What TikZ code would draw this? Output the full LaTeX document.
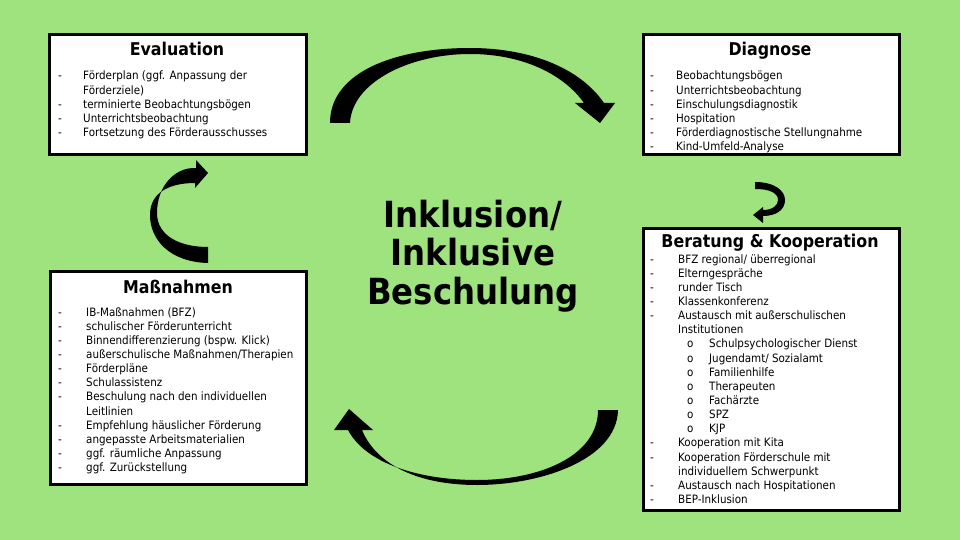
\documentclass[tikz,border=0pt]{standalone}
\usepackage{fontspec}
\setmainfont{DejaVu Sans Condensed}
\definecolor{bg}{HTML}{9EE37D}
\newcommand{\subit}[1]{\hspace*{9pt}\makebox[22pt][l]{o}#1}
\begin{document}
\begin{tikzpicture}[x=1pt,y=-1pt,
  box/.style={draw=black, line width=2.6pt, fill=white, anchor=north west, inner sep=0pt},
  title/.style={font=\fontsize{17.6}{19}\selectfont\bfseries, anchor=base, inner sep=0pt},
  list/.style={font=\fontsize{11.5}{14.15}\selectfont, anchor=base west, inner sep=0pt, align=left},
  center/.style={font=\fontsize{36}{38.5}\selectfont\bfseries, align=center, inner sep=0pt},
  blockarrow/.style={fill=black}]
\fill[bg] (0,0) rectangle (960,540);
\useasboundingbox (0,0) rectangle (960,540);

% boxes
\node[box, minimum width=257pt, minimum height=120pt] (evalbox) at (48,33) {};
\node[box, minimum width=256pt, minimum height=120pt] (diagbox) at (642,33) {};
\node[box, minimum width=256pt, minimum height=213pt] (massbox) at (49,270) {};
\node[box, minimum width=256pt, minimum height=282pt] (berbox) at (642,227) {};

% titles
\node[title] (evalt) at (177,56) {Evaluation};
\node[title] (diagt) at (770,56) {Diagnose};
\node[title] (masst) at (178,293) {Maßnahmen};
\node[title] (bert) at (770,247) {Beratung \& Kooperation};

% lists
\node[list] (evall) at (58,80) {\begin{tabular}[t]{@{}p{25pt}@{}l@{}}
- & Förderplan (ggf. Anpassung der\\
  & Förderziele)\\
- & terminierte Beobachtungsbögen\\
- & Unterrichtsbeobachtung\\
- & Fortsetzung des Förderausschusses
\end{tabular}};

\node[list] (diagl) at (650,80) {\begin{tabular}[t]{@{}p{26pt}@{}l@{}}
- & Beobachtungsbögen\\
- & Unterrichtsbeobachtung\\
- & Einschulungsdiagnostik\\
- & Hospitation\\
- & Förderdiagnostische Stellungnahme\\
- & Kind-Umfeld-Analyse
\end{tabular}};

\node[list] (massl) at (58,316) {\begin{tabular}[t]{@{}p{28pt}@{}l@{}}
- & IB-Maßnahmen (BFZ)\\
- & schulischer Förderunterricht\\
- & Binnendifferenzierung (bspw. Klick)\\
- & außerschulische Maßnahmen/Therapien\\
- & Förderpläne\\
- & Schulassistenz\\
- & Beschulung nach den individuellen\\
  & Leitlinien\\
- & Empfehlung häuslicher Förderung\\
- & angepasste Arbeitsmaterialien\\
- & ggf. räumliche Anpassung\\
- & ggf. Zurückstellung
\end{tabular}};

\node[list] (berl) at (650,263) {\begin{tabular}[t]{@{}p{28pt}@{}l@{}}
- & BFZ regional/ überregional\\
- & Elterngespräche\\
- & runder Tisch\\
- & Klassenkonferenz\\
- & Austausch mit außerschulischen\\
  & Institutionen\\
  & \subit{Schulpsychologischer Dienst}\\
  & \subit{Jugendamt/ Sozialamt}\\
  & \subit{Familienhilfe}\\
  & \subit{Therapeuten}\\
  & \subit{Fachärzte}\\
  & \subit{SPZ}\\
  & \subit{KJP}\\
- & Kooperation mit Kita\\
- & Kooperation Förderschule mit\\
  & individuellem Schwerpunkt\\
- & Austausch nach Hospitationen\\
- & BEP-Inklusion
\end{tabular}};

% central text
\node[center] (incl) at (473,256) {Inklusion/\\Inklusive\\Beschulung};

% top arrow (Evaluation -> Diagnose)
\fill[blockarrow] (330,123) -- (350,123)
  .. controls (352,82) and (410,54) .. (470,54)
  .. controls (525,54) and (565,76) .. (584,103)
  -- (575,103) -- (600,123) -- (615,103) -- (604,103)
  .. controls (580,68) and (530,48) .. (470,48)
  .. controls (395,48) and (330,72) .. (330,123) -- cycle;

% bottom arrow (Beratung -> Massnahmen)
\fill[blockarrow] (598,410) -- (618,410)
  .. controls (617,460) and (540,485) .. (477,485)
  .. controls (420,485) and (377,466) .. (362,430)
  -- (373,430) -- (349,409) -- (334,430) -- (348,430)
  .. controls (366,464) and (420,480) .. (477,480)
  .. controls (540,480) and (598,456) .. (598,410) -- cycle;

% left arrow (Massnahmen -> Evaluation)
\fill[blockarrow] (208,247) -- (208,263)
  .. controls (170,262) and (150,240) .. (150,215)
  .. controls (150,192) and (170,183) .. (195,183)
  -- (195,188) -- (208,173) -- (196,160) -- (196,168)
  .. controls (175,167) and (157,186) .. (157,213)
  .. controls (157,236) and (180,247) .. (208,247) -- cycle;

% right arrow (Diagnose -> Beratung)
\fill[blockarrow] (755,182)
  .. controls (775,182) and (785,191) .. (785,200)
  .. controls (785,210) and (776,216) .. (763,216)
  -- (763,223) -- (753,215) -- (763,207) -- (763,210)
  .. controls (773,210) and (778,205) .. (778,200)
  .. controls (778,193) and (770,189) .. (755,189) -- cycle;
\end{tikzpicture}
\end{document}
